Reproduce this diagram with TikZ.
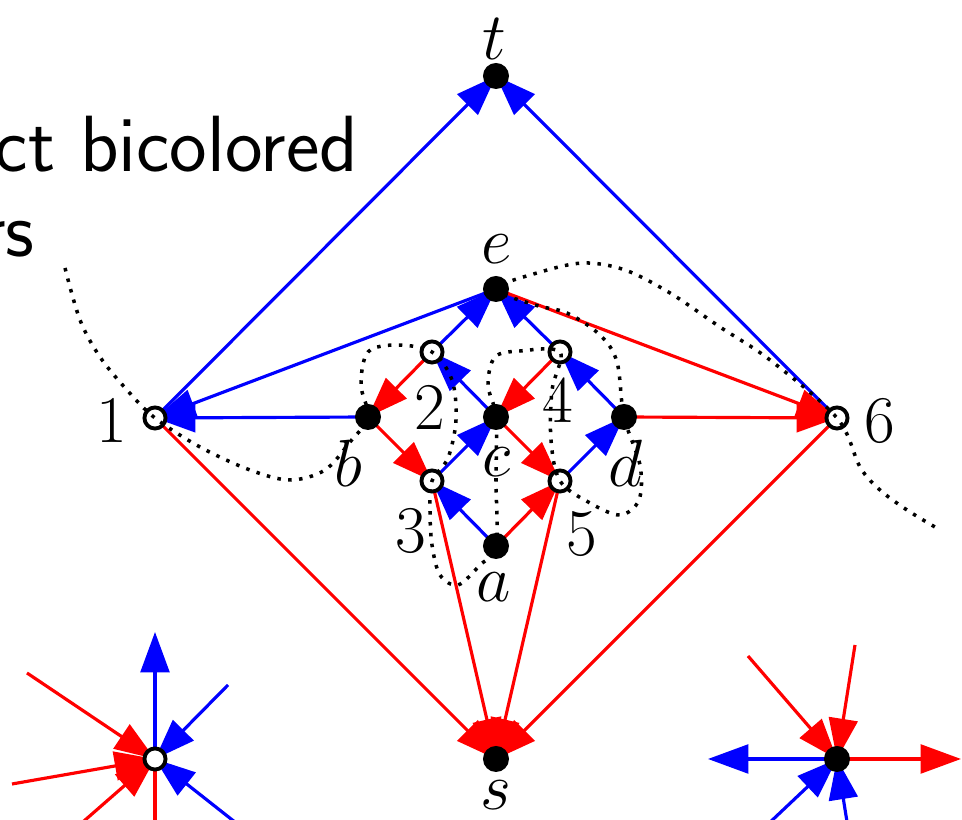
\RequirePackage{fix-cm}
\documentclass[tikz,border=0pt]{standalone}
\usetikzlibrary{arrows.meta, backgrounds}

\begin{document}
\begin{tikzpicture}[
    x=0.1mm, y=-0.1mm,
    full/.style={circle, fill=black, inner sep=0pt, minimum size=7.4pt},
    hollow/.style={circle, draw=black, fill=white, line width=1.1pt, inner sep=0pt, minimum size=6pt},
    barr/.style={blue, line width=0.9pt, -{Triangle[length=11.5pt, width=8.2pt]}},
    rarr/.style={red, line width=0.9pt, -{Triangle[length=11.5pt, width=8.2pt]}},
    rline/.style={red, line width=0.9pt},
    lbl/.style={font=\fontsize{19}{22}\selectfont, inner sep=0pt, anchor=base},
    txt/.style={font=\fontsize{22.7}{27}\selectfont\sffamily, inner sep=0pt},
    jordan/.style={black, line width=1pt, dash pattern=on 1pt off 2.1pt},
]
\useasboundingbox (0,0) rectangle (962,820);
\clip (0,0) rectangle (962,820);

% Slide text (cut by the frame)
\node[txt, anchor=base west] (title) at (-6,172) {ct bicolored};
\node[txt, anchor=base east] (title2) at (35,257) {rs};

% Vertices
\node[full] (t) at (496,76) {};
\node[full] (e) at (496,289) {};
\node[hollow] (n1) at (155,418) {};
\node[hollow] (n6) at (837,418) {};
\node[full] (b) at (368,417) {};
\node[full] (c) at (496,417) {};
\node[full] (d) at (624,417) {};
\node[hollow] (n2) at (432,352) {};
\node[hollow] (n4) at (560,352) {};
\node[hollow] (n3) at (432,481) {};
\node[hollow] (n5) at (560,481) {};
\node[full] (a) at (496,546) {};
\node[full] (s) at (496,759) {};
\node[hollow] (v) at (155,759) {};
\node[full] (w) at (837,759) {};

% Labels
\node[lbl] (lt) at (494,60) {$t$};
\node[lbl] (le) at (497,264) {$e$};
\node[lbl] (l1) at (112,443) {$1$};
\node[lbl] (l6) at (880,443) {$6$};
\node[lbl] (lb) at (348,487) {$b$};
\node[lbl] (l2) at (430,430) {$2$};
\node[lbl] (l4) at (558,423) {$4$};
\node[lbl] (lc) at (497,477) {$c$};
\node[lbl] (ld) at (625,487) {$d$};
\node[lbl] (l3) at (411,553) {$3$};
\node[lbl] (l5) at (582,556) {$5$};
\node[lbl] (la) at (494,602) {$a$};
\node[lbl] (ls) at (496,810) {$s$};

% Free ends of the two small stars
\coordinate (vu) at (155,632);
\coordinate (vur) at (228,685);
\coordinate (vdr) at (245,830);
\coordinate (vul) at (27,673);
\coordinate (vl) at (12,784);
\coordinate (vdl) at (76,828);
\coordinate (vd) at (155,830);
\coordinate (wul) at (748,656);
\coordinate (wu) at (855,645);
\coordinate (wl) at (708,759);
\coordinate (wr) at (961,759);
\coordinate (wdl) at (765,827);
\coordinate (wd) at (848,828);

\begin{pgfonlayer}{background}
\clip (0,0) rectangle (962,820);
% Blue edges
\draw[barr] (n1.center) -- (t.center);
\draw[barr] (n6.center) -- (t.center);
\draw[barr] (e.center) -- (n1.center);
\draw[barr] (b.center) -- (n1.center);
\draw[barr] (n2.center) -- (e.center);
\draw[barr] (n4.center) -- (e.center);
\draw[barr] (c.center) -- (n2.center);
\draw[barr] (d.center) -- (n4.center);
\draw[barr] (n3.center) -- (c.center);
\draw[barr] (n5.center) -- (d.center);
\draw[barr] (a.center) -- (n3.center);

% Red edges
\draw[rarr] (n2.center) -- (b.center);
\draw[rarr] (b.center) -- (n3.center);
\draw[rarr] (n4.center) -- (c.center);
\draw[rarr] (c.center) -- (n5.center);
\draw[rarr] (a.center) -- (n5.center);
\draw[rarr] (e.center) -- (n6.center);
\draw[rarr] (d.center) -- (n6.center);
\draw[rarr] (n1.center) -- (s.center);
\draw[rarr] (n3.center) -- (s.center);
\draw[rarr] (n5.center) -- (s.center);
\draw[rarr] (n6.center) -- (s.center);

% Bottom left star
\draw[barr] (v.center) -- (vu);
\draw[barr] (vur) -- (v.center);
\draw[barr] (vdr) -- (v.center);
\draw[rarr] (vul) -- (v.center);
\draw[rarr] (vl) -- (v.center);
\draw[rarr] (vdl) -- (v.center);
\draw[rline] (v.center) -- (vd);

% Bottom right star
\draw[rarr] (wul) -- (w.center);
\draw[rarr] (wu) -- (w.center);
\draw[barr] (w.center) -- (wl);
\draw[rarr] (w.center) -- (wr);
\draw[barr] (wdl) -- (w.center);
\draw[barr] (wd) -- (w.center);
\end{pgfonlayer}

% Dotted curve through the vertices
\draw[jordan] plot[smooth, tension=0.55] coordinates {
  (65,268) (80,320) (100,357) (127,390) (n1.center)
  (200,447) (250,470) (290,480) (325,470) (350,442) (b.center)
  (361,385) (368,352) (397,345) (n2.center)
  (452,380) (456,420) (448,458) (n3.center)
  (430,510) (432,545) (440,575) (458,585) (480,565) (a.center)
  (496,480) (c.center) (488,385) (495,357) (520,351) (n4.center)
  (552,390) (551,440) (n5.center)
  (590,503) (620,515) (639,500) (640,465) (d.center)
  (617,362) (600,335) (567,313) (535,305) (e.center)
  (537,273) (583,263) (625,270) (670,293) (720,327) (770,360) (n6.center)
  (860,467) (880,490) (907,510) (935,527)
};
\end{tikzpicture}
\end{document}
